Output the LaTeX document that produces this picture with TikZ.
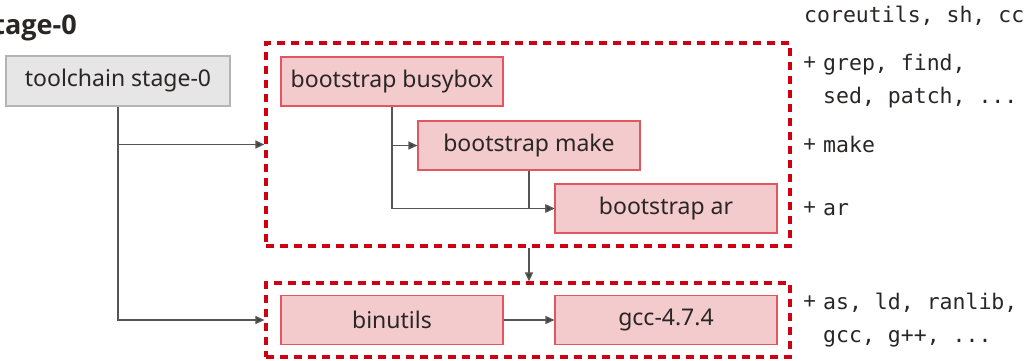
\documentclass[tikz,border=0pt]{standalone}
\usepackage{fontspec}
\setmainfont{Noto Sans}
\newfontfamily\headfont{Open Sans}
\newfontfamily\codefont{DejaVu Sans Mono}
\usetikzlibrary{arrows.meta}
\definecolor{ink}{HTML}{2A2626}
\definecolor{wire}{HTML}{555555}
\definecolor{tipc}{HTML}{404040}
\definecolor{pinkfill}{HTML}{F4CBCD}
\definecolor{pinkline}{HTML}{E0575E}
\definecolor{greyfill}{HTML}{E6E6E6}
\definecolor{greyline}{HTML}{B4B4B4}
\definecolor{groupred}{HTML}{CC0011}
\tikzset{
  box/.style={draw=pinkline, fill=pinkfill, line width=1.1pt, minimum width=222pt,
    minimum height=49pt, inner sep=0pt, text=ink, font=\fontsize{23}{26}\selectfont},
  basebox/.style={box, draw=greyline, fill=greyfill, minimum width=224pt, minimum height=50pt},
  group/.style={draw=groupred, line width=3.2pt, dash pattern=on 8pt off 6pt, inner sep=0pt},
  conn/.style={draw=wire, line width=1.4pt, -{Triangle[length=9pt,width=8pt,fill=tipc]}},
  note/.style={anchor=base west, inner sep=0pt, text=ink, font=\codefont\fontsize{21.5}{24}\selectfont},
  plus/.style={anchor=base west, inner sep=0pt, text=ink, font=\fontsize{23}{26}\selectfont},
}
\begin{document}
\begin{tikzpicture}[x=1pt, y=-1pt]
\useasboundingbox (0,0) rectangle (1029,361);

% heading, running off the left edge
\node[anchor=base east, inner sep=0pt, text=ink, font=\headfont\bfseries\fontsize{27}{30}\selectfont]
  (title) at (77,35) {stage-0};

% starting toolchain
\node[basebox] (tc) at (118,81) {toolchain stage-0};

% dashed groups
\node[group, minimum width=524pt, minimum height=203pt] (grp1) at (528,144.5) {};
\node[group, minimum width=524pt, minimum height=74pt] (grp2) at (528,320) {};

% bootstrap tools
\node[box] (bb) at (392,81.5) {bootstrap busybox};
\node[box] (mk) at (529,145.5) {bootstrap make};
\node[box] (ar) at (666,208.5) {bootstrap ar};

% toolchain proper
\node[box] (bu) at (392,320) {binutils};
\node[box] (gcc) at (666,320) {gcc-4.7.4};

% connectors
\draw[conn] (tc.south) |- (grp2.west);
\draw[conn] (tc.south |- grp1.west) -- (grp1.west);
\draw[conn] (bb.south) |- (ar.west);
\draw[conn] (bb.south |- mk.west) -- (mk.west);
\draw[conn] (mk.south) |- (ar.west);
\draw[conn] (grp1.south -| mk.south) -- (grp2.north -| mk.south);
\draw[conn] (bu.east) -- (gcc.west);

% provided commands
\node[note] (n0) at (804,23) {coreutils, sh, cc};
\node[plus] (p1) at (803,71) {+};
\node[note] (n1a) at (823,71) {grep, find,};
\node[note] (n1b) at (823,103) {sed, patch, ...};
\node[plus] (p2) at (803,152) {+};
\node[note] (n2) at (823,152) {make};
\node[plus] (p3) at (803,215) {+};
\node[note] (n3) at (823,215) {ar};
\node[plus] (p4) at (803,309) {+};
\node[note] (n4a) at (823,309) {as, ld, ranlib,};
\node[note] (n4b) at (823,342) {gcc, g++, ...};
\end{tikzpicture}
\end{document}
